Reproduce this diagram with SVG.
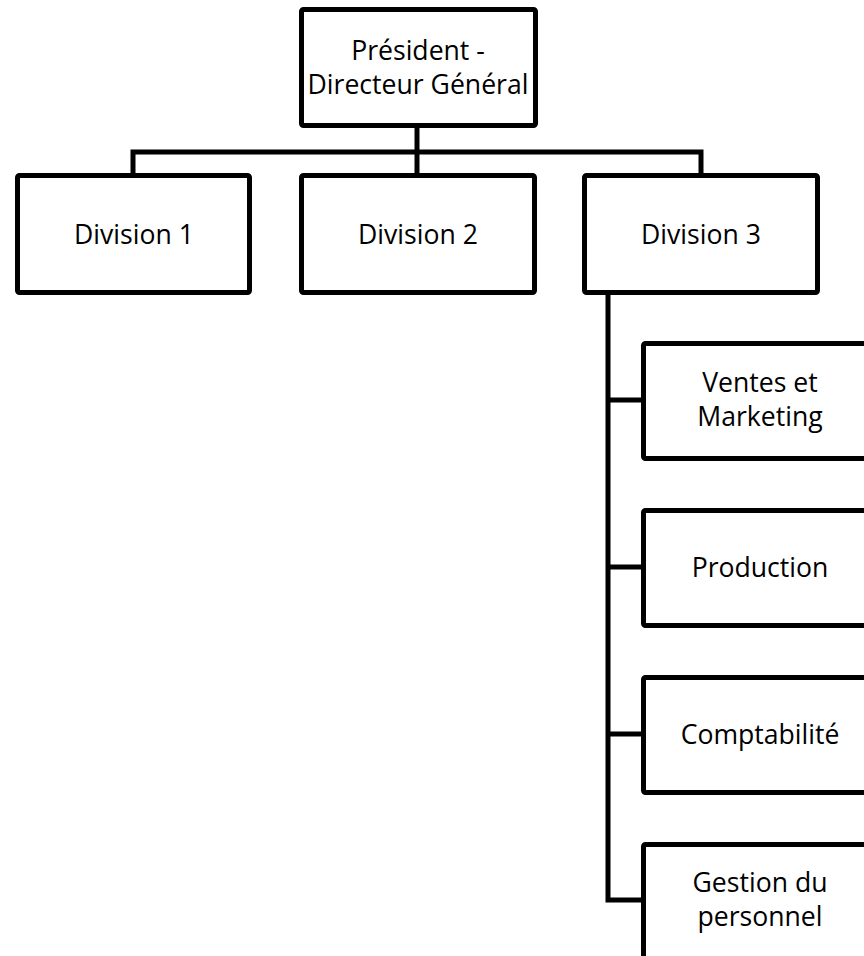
<svg xmlns="http://www.w3.org/2000/svg" width="864" height="956" viewBox="0 0 864 956">
  <style>
    .box { fill: #ffffff; stroke: #000000; stroke-width: 5; }
    .wire { fill: none; stroke: #000000; stroke-width: 5; stroke-linejoin: miter; }
    .lbl { font-family: "Open Sans", "Noto Sans", "Liberation Sans", sans-serif; font-size: 26.6px; fill: #000000; text-anchor: middle; }
  </style>
  <rect width="864" height="956" fill="#ffffff"/>

  <!-- connectors -->
  <g id="connectors" class="wire">
    <path d="M417,126 V175"/>
    <path d="M133,175 V152 H701 V175"/>
    <path d="M608,293 V900 H643"/>
    <path d="M608,400 H643"/>
    <path d="M608,567 H643"/>
    <path d="M608,734 H643"/>
  </g>

  <g id="pdg">
    <rect class="box" x="301.5" y="9.5" width="234" height="116" rx="2"/>
    <text class="lbl" x="418" y="59.5">Président -</text>
    <text class="lbl" x="418" y="93.5">Directeur Général</text>
  </g>

  <g id="division1">
    <rect class="box" x="17.5" y="175.5" width="232" height="117" rx="2"/>
    <text class="lbl" x="134" y="244">Division 1</text>
  </g>

  <g id="division2">
    <rect class="box" x="301.5" y="175.5" width="233" height="117" rx="2"/>
    <text class="lbl" x="418" y="244">Division 2</text>
  </g>

  <g id="division3">
    <rect class="box" x="584.5" y="175.5" width="233" height="117" rx="2"/>
    <text class="lbl" x="701" y="244">Division 3</text>
  </g>

  <g id="ventes">
    <rect class="box" x="643.5" y="343.5" width="234" height="115" rx="2"/>
    <text class="lbl" x="760" y="391.5">Ventes et</text>
    <text class="lbl" x="760" y="425.5">Marketing</text>
  </g>

  <g id="production">
    <rect class="box" x="643.5" y="510.5" width="234" height="115" rx="2"/>
    <text class="lbl" x="760" y="577">Production</text>
  </g>

  <g id="comptabilite">
    <rect class="box" x="643.5" y="677.5" width="234" height="115" rx="2"/>
    <text class="lbl" x="760" y="744">Comptabilité</text>
  </g>

  <g id="personnel">
    <rect class="box" x="643.5" y="844.5" width="234" height="115" rx="2"/>
    <text class="lbl" x="760" y="891.5">Gestion du</text>
    <text class="lbl" x="760" y="925.5">personnel</text>
  </g>
</svg>
